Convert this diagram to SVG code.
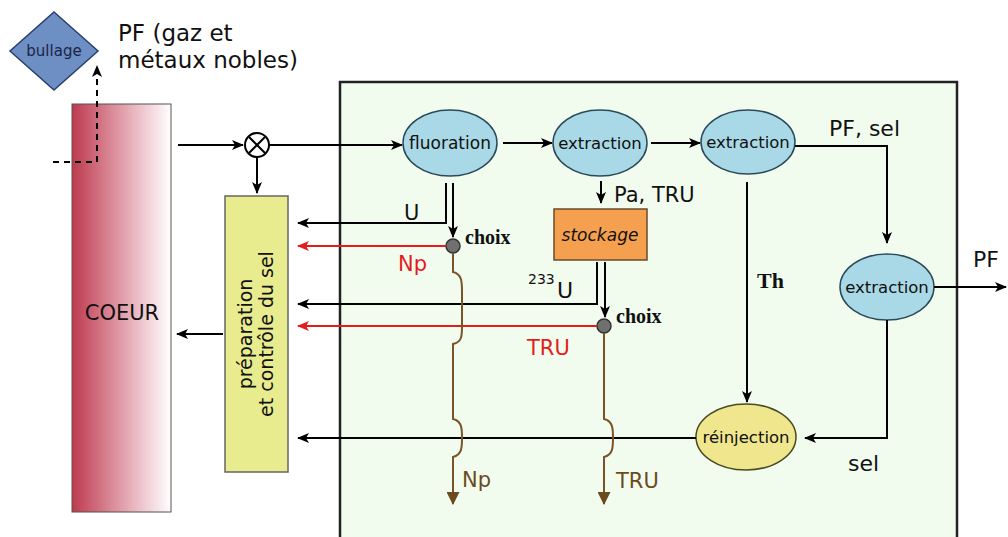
<svg xmlns="http://www.w3.org/2000/svg" width="1008" height="537" viewBox="0 0 1008 537">
<defs>
<linearGradient id="core" x1="0" y1="0" x2="1" y2="0">
<stop offset="0" stop-color="#bd3a4e"/>
<stop offset="0.55" stop-color="#e4a7b2"/>
<stop offset="1" stop-color="#ffffff"/>
</linearGradient>
<marker id="ab" viewBox="0 0 12 10" refX="11" refY="5" markerWidth="12" markerHeight="10" markerUnits="userSpaceOnUse" orient="auto">
<path d="M0,0 L12,5 L0,10 L3,5 z" fill="#000"/>
</marker>
<marker id="ar" viewBox="0 0 12 10" refX="11" refY="5" markerWidth="12" markerHeight="10" markerUnits="userSpaceOnUse" orient="auto">
<path d="M0,0 L12,5 L0,10 L3,5 z" fill="#e51c1c"/>
</marker>
<marker id="an" viewBox="0 0 12 12" refX="11" refY="6" markerWidth="13" markerHeight="13" markerUnits="userSpaceOnUse" orient="auto">
<path d="M0,0 L12,6 L0,12 z" fill="#6b4a1e"/>
</marker>
</defs>
<style>
.t{font-family:"DejaVu Sans","Liberation Sans",sans-serif;fill:#111}
.b{font-family:"Liberation Serif",serif;font-weight:bold;fill:#111}
.ell{fill:#a9d9e6;stroke:#2a4a5a;stroke-width:1.5}
.ln{fill:none;stroke:#000;stroke-width:2}
.red{fill:none;stroke:#e51c1c;stroke-width:2}
.br{fill:none;stroke:#7a5428;stroke-width:2}
</style>
<rect id="panel" x="340" y="82" width="617" height="470" fill="#f1fcef" stroke="#222" stroke-width="2.5"/>
<g id="bullage">
<polygon points="54,12 98,51 54,90 10,51" fill="#6d8fc4" stroke="#2a3f70" stroke-width="1.5"/>
<text class="t" x="54" y="56" font-size="15" text-anchor="middle" style="fill:#1b2448">bullage</text>
</g>
<g id="pf-gaz">
<text class="t" x="118" y="41" font-size="23">PF (gaz et</text>
<text class="t" x="118" y="68" font-size="23">métaux nobles)</text>
</g>
<g id="coeur">
<rect x="72" y="104" width="99" height="408" fill="url(#core)" stroke="#555" stroke-width="1"/>
<text class="t" x="122" y="320" font-size="21" text-anchor="middle">COEUR</text>
</g>
<g id="junction">
<circle cx="257" cy="145" r="12" fill="#fff" stroke="#000" stroke-width="2"/>
<path d="M249,137 L265,153 M265,137 L249,153" stroke="#000" stroke-width="2"/>
</g>
<g id="preparation">
<rect x="225" y="196" width="63" height="276" fill="#e8ec8e" stroke="#666" stroke-width="1.5"/>
<text class="t" font-size="19" text-anchor="middle" transform="translate(256,334) rotate(-90)"><tspan x="0" y="-4">préparation</tspan><tspan x="0" y="17">et contrôle du sel</tspan></text>
</g>
<g id="fluoration">
<ellipse class="ell" cx="450" cy="143" rx="47" ry="33"/>
<text class="t" x="450" y="149" font-size="17" text-anchor="middle">fluoration</text>
</g>
<g id="extraction1">
<ellipse class="ell" cx="600" cy="143" rx="47" ry="33"/>
<text class="t" x="600" y="149" font-size="16.5" text-anchor="middle">extraction</text>
</g>
<g id="extraction2">
<ellipse class="ell" cx="748" cy="142" rx="47" ry="32"/>
<text class="t" x="748" y="148" font-size="16.5" text-anchor="middle">extraction</text>
</g>
<g id="extraction3">
<ellipse class="ell" cx="887" cy="287" rx="47" ry="33"/>
<text class="t" x="887" y="293" font-size="16.5" text-anchor="middle">extraction</text>
</g>
<g id="reinjection">
<ellipse cx="746" cy="437" rx="50" ry="33" fill="#efe68e" stroke="#4a4a20" stroke-width="1.5"/>
<text class="t" x="746" y="443" font-size="16.5" text-anchor="middle">réinjection</text>
</g>
<g id="stockage">
<rect x="554" y="209" width="93" height="51" fill="#f5a04e" stroke="#6b4a2a" stroke-width="1.5"/>
<text class="t" x="600" y="241" font-size="17" font-style="italic" text-anchor="middle">stockage</text>
</g>
<g id="choix1">
<circle cx="453" cy="246" r="7" fill="#707070" stroke="#333" stroke-width="1.5"/>
<text class="b" x="465" y="244" font-size="20">choix</text>
</g>
<g id="choix2">
<circle cx="604" cy="326" r="7" fill="#707070" stroke="#333" stroke-width="1.5"/>
<text class="b" x="616" y="323" font-size="20">choix</text>
</g>
<g id="connectors">
<path class="ln" d="M53,162 H97 V66" stroke-dasharray="6,5" marker-end="url(#ab)"/>
<path class="ln" d="M178,145 H243" marker-end="url(#ab)"/>
<path class="ln" d="M269,145 H402" marker-end="url(#ab)"/>
<path class="ln" d="M257,157 V193" marker-end="url(#ab)"/>
<path class="ln" d="M223,334 H177" marker-end="url(#ab)"/>
<path class="ln" d="M503,143 H552" marker-end="url(#ab)"/>
<path class="ln" d="M651,143 H700" marker-end="url(#ab)"/>
<path class="ln" d="M795,146 H887 V243" marker-end="url(#ab)"/>
<path class="ln" d="M934,287 H1006" marker-end="url(#ab)"/>
<path class="ln" d="M887,320 V438 H805" marker-end="url(#ab)"/>
<path class="ln" d="M747,182 V402" marker-end="url(#ab)"/>
<path class="ln" d="M696,438 H298" marker-end="url(#ab)"/>
<path class="ln" d="M446,183 V223 H298" marker-end="url(#ab)"/>
<path class="ln" d="M453,183 V237" stroke-width="1.5" marker-end="url(#ab)"/>
<path class="red" d="M446,246 H298" marker-end="url(#ar)"/>
<path class="ln" d="M601,181 V203" stroke-width="1.5" marker-end="url(#ab)"/>
<path class="ln" d="M597,262 V304 H298" marker-end="url(#ab)"/>
<path class="ln" d="M605,262 V317" stroke-width="1.5" marker-end="url(#ab)"/>
<path class="red" d="M597,326 H298" marker-end="url(#ar)"/>
<path class="br" d="M453,253 V272 C462,274 462,282 462,292 V326 C462,336 462,342 453,344 V419 C462,421 462,429 462,438 C462,447 462,455 453,457 V504" marker-end="url(#an)"/>
<path class="br" d="M604,333 V419 C613,421 613,429 613,438 C613,447 613,455 604,457 V504" marker-end="url(#an)"/>
</g>
<g id="labels">
<text class="t" x="404" y="220" font-size="21">U</text>
<text class="t" x="398" y="271" font-size="21" style="fill:#e51c1c">Np</text>
<text class="t" x="614" y="202" font-size="21">Pa, TRU</text>
<text class="t" x="528" y="284" font-size="14">233</text>
<text class="t" x="557" y="298" font-size="22">U</text>
<text class="t" x="527" y="355" font-size="21" style="fill:#e51c1c">TRU</text>
<text class="t" x="829" y="136" font-size="22">PF, sel</text>
<text class="t" x="973" y="267" font-size="22">PF</text>
<text class="b" x="757" y="288" font-size="22">Th</text>
<text class="t" x="848" y="471" font-size="22">sel</text>
<text class="t" x="462" y="487" font-size="21" style="fill:#6b4a1e">Np</text>
<text class="t" x="616" y="488" font-size="21" style="fill:#6b4a1e">TRU</text>
</g>
</svg>
